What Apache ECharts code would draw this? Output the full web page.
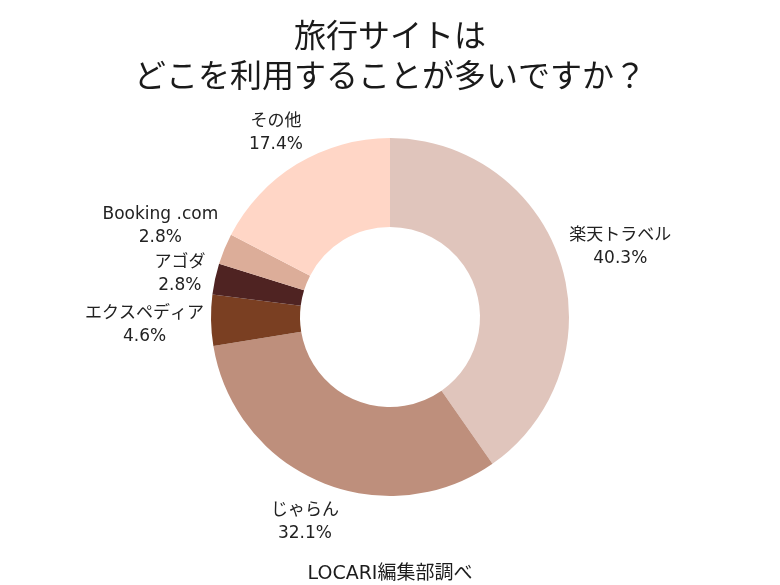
<!DOCTYPE html>
<html><head><meta charset="utf-8">
<script src="https://cdn.jsdelivr.net/npm/echarts@6/dist/echarts.min.js"></script>
<style>html,body{margin:0;padding:0;background:#fff}#c{width:780px;height:585px}</style>
</head><body><div id="c"></div>
<script>
const categories = ['楽天トラベル','じゃらん','エクスペディア','アゴダ','Booking .com','その他'];
const values = [40.3, 32.1, 4.6, 2.8, 2.8, 17.4];
const colors = ['#e0c5bc','#be8f7c','#7a3f22','#4f2322','#dcad99','#ffd6c6'];
const titleLines = ['旅行サイトは','どこを利用することが多いですか？'];
const sourceText = 'LOCARI編集部調べ';

const FONT = '"Noto Sans CJK JP", "Noto Sans", sans-serif';
const LFONT = '"DejaVu Sans", "Noto Sans CJK JP", sans-serif';
const CX = 390, CY = 317, R_OUT = 179, LABEL_GAP_R = 186;
const chart = echarts.init(document.getElementById('c'), null, {renderer:'canvas'});
const data = categories.map((n,i)=>({name:n, value:values[i], itemStyle:{color:colors[i]}}));

// push a label box outward along its slice direction until its nearest point clears radius R
function pushOut(w, h, ux, uy, R){
  let lo = 0, hi = 500;
  for (let k=0;k<40;k++){
    const t=(lo+hi)/2, cx=ux*t, cy=uy*t;
    const nx=Math.max(cx-w/2, Math.min(0, cx+w/2));
    const ny=Math.max(cy-h/2, Math.min(0, cy+h/2));
    if (Math.hypot(nx,ny) < R) lo=t; else hi=t;
  }
  return (lo+hi)/2;
}

chart.setOption({
  backgroundColor:'#ffffff',
  animation:false,
  title:[
    {text:titleLines.join('\n'), left:'center', top:10,
     textStyle:{fontFamily:FONT, fontSize:32, fontWeight:'normal', color:'#1a1a1a', lineHeight:40}},
    {text:sourceText, left:'center', top:560,
     textStyle:{fontFamily:LFONT, fontSize:19, fontWeight:'normal', color:'#1c1c1c'}}
  ],
  series:[
    {type:'pie', center:[CX,CY], radius:[90,R_OUT], startAngle:90, clockwise:true,
     silent:true, label:{show:false}, labelLine:{show:false}, data:data},
    {type:'pie', center:[CX,CY], radius:[186,204], startAngle:90, clockwise:true,
     silent:true, avoidLabelOverlap:false, itemStyle:{color:'rgba(0,0,0,0)'},
     label:{show:true, position:'inside', formatter:p=>p.name+'\n'+p.value.toFixed(1)+'%',
       fontFamily:LFONT, fontSize:17, color:'#222', lineHeight:23},
     labelLine:{show:false},
     labelLayout:function(p){
       const r = p.labelRect;
       const mx = r.x + r.width/2 - CX, my = r.y + r.height/2 - CY;
       const d = Math.hypot(mx,my) || 1;
       const ux = mx/d, uy = my/d;
       const t = pushOut(r.width, r.height, ux, uy, LABEL_GAP_R);
       return {dx:ux*t-mx, dy:uy*t-my+3, hideOverlap:false};
     },
     data:categories.map((n,i)=>({name:n, value:values[i]}))}
  ]
});
</script></body></html>
